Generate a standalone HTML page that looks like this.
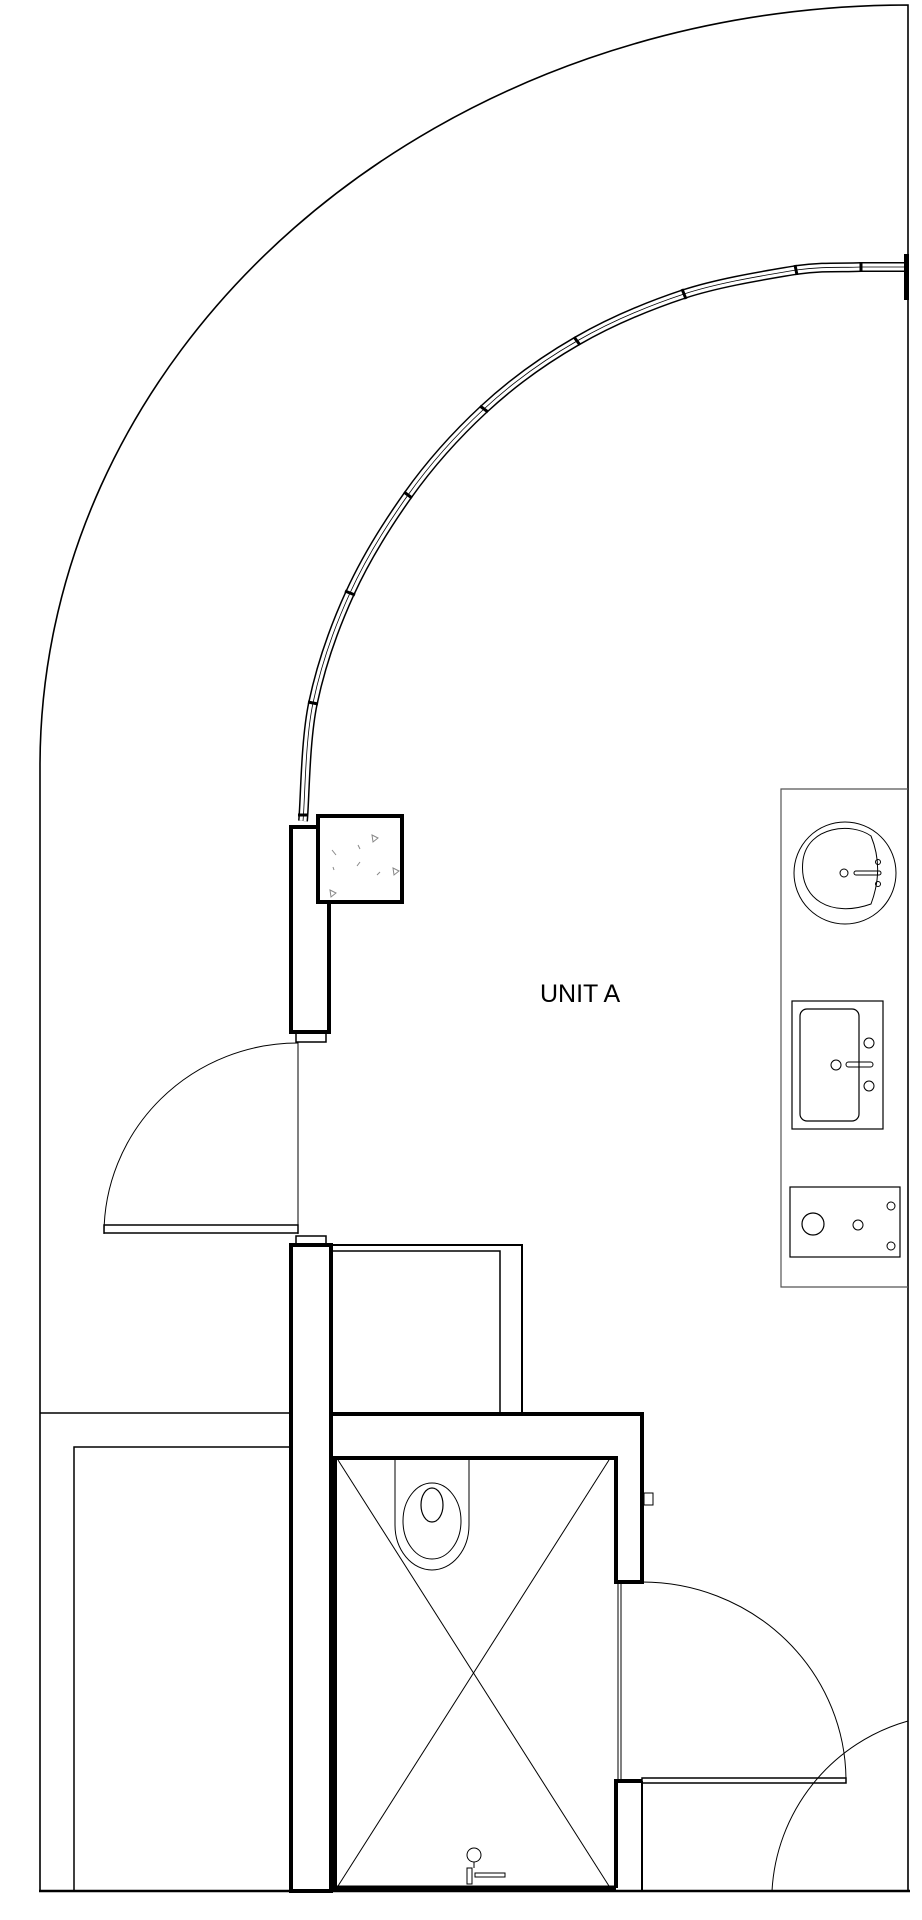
<!DOCTYPE html>
<html><head><meta charset="utf-8"><style>
html,body{margin:0;padding:0;background:#fff;}
svg{display:block;}
</style></head><body>
<svg width="922" height="1920" viewBox="0 0 922 1920" xmlns="http://www.w3.org/2000/svg" fill="none" stroke="#000">
<!-- outer envelope -->
<path d="M40,1891 L40,766 A868,761 0 0 1 908,5 L908,1891" stroke-width="1.6"/>
<line x1="39" y1="1891" x2="910" y2="1891" stroke-width="2.5"/>

<!-- curved window -->
<g>
<path id="w" d="M303,821 C305,801 305,741 313,703 C321,665 334,628 350,593 C366,558 386,526 408,495 C430,464 456,435 484,409 C512,383 544,360 577,341 C610,322 648,306 684,294 C721,282 767,275 796,270 C826,266 842,268 861,267 L908,267" stroke-width="10"/>
<path d="M303,821 C305,801 305,741 313,703 C321,665 334,628 350,593 C366,558 386,526 408,495 C430,464 456,435 484,409 C512,383 544,360 577,341 C610,322 648,306 684,294 C721,282 767,275 796,270 C826,266 842,268 861,267 L908,267" stroke="#fff" stroke-width="7"/>
<path d="M303,821 C305,801 305,741 313,703 C321,665 334,628 350,593 C366,558 386,526 408,495 C430,464 456,435 484,409 C512,383 544,360 577,341 C610,322 648,306 684,294 C721,282 767,275 796,270 C826,266 842,268 861,267 L908,267" stroke-width="0.8"/>
</g>
<g stroke-width="3">
<line x1="797" y1="275" x2="795" y2="265"/>
<line x1="861" y1="272" x2="861" y2="262"/>
<line x1="686" y1="299" x2="682" y2="289"/>
<line x1="580" y1="345" x2="574" y2="337"/>
<line x1="488" y1="412" x2="480" y2="406"/>
<line x1="412" y1="498" x2="404" y2="492"/>
<line x1="355" y1="595" x2="345" y2="591"/>
<line x1="318" y1="704" x2="308" y2="702"/>
<line x1="308" y1="815" x2="298" y2="815"/>
</g>
<rect x="904" y="254" width="5" height="46" fill="#000" stroke="none"/>

<!-- upper wall stub + column -->
<rect x="291" y="827" width="38" height="205" stroke-width="4"/>
<rect x="296" y="1032" width="30" height="10" stroke-width="1.5"/>
<rect x="318" y="816" width="84" height="86" fill="#fff" stroke-width="4"/>
<g stroke="#888" stroke-width="1">
<path d="M372,835 l6,3 l-5,4 z"/><path d="M393,868 l6,3 l-5,4 z"/><path d="M330,890 l6,3 l-5,4 z"/>
<line x1="358" y1="845" x2="360" y2="849"/><line x1="332" y1="850" x2="336" y2="855"/><line x1="360" y1="862" x2="357" y2="866"/><line x1="380" y1="872" x2="377" y2="875"/><line x1="333" y1="867" x2="334" y2="870"/>
</g>

<!-- entry door -->
<line x1="298" y1="1042" x2="298" y2="1234" stroke-width="1"/>
<path d="M298,1043 A194,191 0 0 0 104,1234" stroke-width="1"/>
<rect x="104" y="1225" width="194" height="8" stroke-width="1.5"/>

<!-- lower wall -->
<rect x="296" y="1236" width="30" height="9" stroke-width="1.5"/>
<rect x="291" y="1245" width="40" height="646" stroke-width="4"/>

<!-- cabinet -->
<path d="M331,1245 L522,1245 L522,1413" stroke-width="2"/>
<path d="M331,1251 L500,1251 L500,1413" stroke-width="1.5"/>

<!-- left room -->
<line x1="40" y1="1413" x2="291" y2="1413" stroke-width="1.5"/>
<path d="M74,1891 L74,1447 L291,1447" stroke-width="1.5"/>

<!-- bathroom -->
<path d="M333,1414 L642,1414 L642,1582 L616,1582 L616,1458 L333,1458" stroke-width="4"/>
<path d="M642,1781 L616,1781 L616,1888" stroke-width="4"/>
<line x1="642" y1="1781" x2="642" y2="1891" stroke-width="2"/>
<line x1="333" y1="1888" x2="616" y2="1888" stroke-width="5"/>
<line x1="335" y1="1458" x2="335" y2="1888" stroke-width="4"/>
<line x1="338" y1="1460" x2="609" y2="1886" stroke-width="1"/>
<line x1="609" y1="1460" x2="338" y2="1886" stroke-width="1"/>
<line x1="618" y1="1582" x2="618" y2="1781" stroke-width="1"/>
<line x1="621" y1="1582" x2="621" y2="1781" stroke-width="1"/>
<rect x="644" y="1493" width="9" height="12" stroke-width="1"/>
<!-- toilet -->
<path d="M395,1460 L395,1525 A37,45 0 0 0 469,1525 L469,1460" stroke-width="1"/>
<ellipse cx="432" cy="1521" rx="29" ry="38" stroke-width="1"/>
<ellipse cx="432" cy="1505" rx="11" ry="17" stroke-width="1.2"/>
<!-- shower valve -->
<circle cx="474" cy="1855" r="7" stroke-width="1"/>
<line x1="474" y1="1862" x2="474" y2="1868" stroke-width="1"/>
<rect x="467" y="1868" width="5" height="16" stroke-width="1"/>
<rect x="475" y="1873" width="30" height="4" stroke-width="1"/>

<!-- bathroom door -->
<path d="M642,1582 A204,199 0 0 1 846,1781" stroke-width="1"/>
<rect x="642" y="1778" width="204" height="5" stroke-width="1.5"/>
<path d="M772,1891 A187,187 0 0 1 908,1721" stroke-width="1"/>

<!-- kitchen counter -->
<path d="M908,789 L781,789 L781,1287 L908,1287" stroke="#555" stroke-width="1.2"/>
<circle cx="845" cy="873" r="51" stroke-width="1"/>
<path d="M871,836 C852,822 808,826 803,860 C798,900 832,918 871,904 C880,880 880,858 871,836 Z" stroke-width="1"/>
<circle cx="844" cy="873" r="4" stroke-width="1"/>
<rect x="854" y="871" width="27" height="4" rx="2" stroke-width="1"/>
<circle cx="878" cy="862" r="2.5" stroke-width="1"/>
<circle cx="878" cy="884" r="2.5" stroke-width="1"/>
<rect x="792" y="1001" width="91" height="128" stroke-width="1.2"/>
<rect x="800" y="1009" width="59" height="112" rx="7" stroke-width="1.2"/>
<circle cx="836" cy="1065" r="5" stroke-width="1"/>
<rect x="846" y="1062" width="27" height="5" rx="2.5" stroke-width="1"/>
<circle cx="869" cy="1043" r="5" stroke-width="1"/>
<circle cx="869" cy="1086" r="5" stroke-width="1"/>
<rect x="790" y="1187" width="110" height="70" stroke-width="1.2"/>
<circle cx="813" cy="1224" r="11" stroke-width="1.2"/>
<circle cx="858" cy="1225" r="5" stroke-width="1"/>
<circle cx="891" cy="1206" r="4" stroke-width="1"/>
<circle cx="891" cy="1246" r="4" stroke-width="1"/>

<text x="540" y="1002" font-family="Liberation Sans, sans-serif" font-size="25" fill="#000" stroke="none">UNIT A</text>
</svg>
</body></html>
